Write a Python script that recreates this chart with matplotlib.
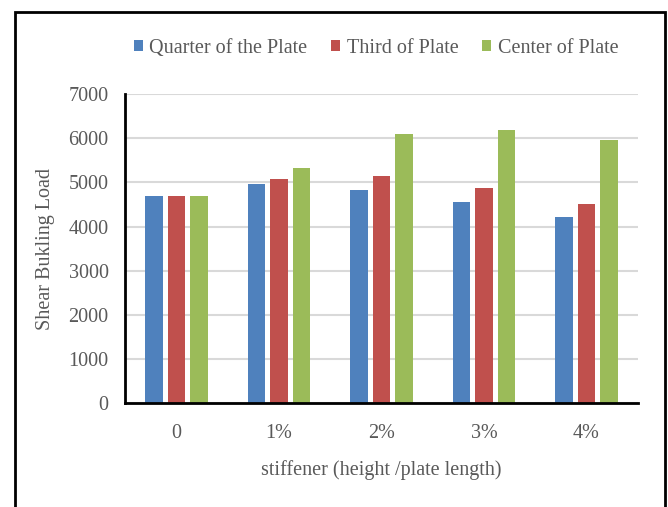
import matplotlib.pyplot as plt
import numpy as np
from matplotlib.patches import Rectangle

categories = ["0", "1%", "2%", "3%", "4%"]
quarter = [4700, 4970, 4835, 4550, 4215]
third = [4700, 5080, 5135, 4880, 4520]
center = [4700, 5330, 6085, 6175, 5950]
series_names = ["Quarter of the Plate", "Third of Plate", "Center of Plate"]
colors = ["#4F81BD", "#C0504D", "#9BBB59"]

plt.rcParams['font.family'] = ['Liberation Serif', 'DejaVu Serif']
text_color = "#595959"

fig = plt.figure(figsize=(6.68, 5.07), dpi=100)
ax = fig.add_axes([0.1876, 0.2045, 0.767, 0.610])

x = np.arange(len(categories))
step = 0.221
width = 0.17
for i, (vals, name, c) in enumerate(zip([quarter, third, center], series_names, colors)):
    ax.bar(x + (i - 1) * step, vals, width, color=c, label=name, zorder=3)

ax.set_xlim(-0.5, len(categories) - 0.5)
ax.set_ylim(0, 7000)
ax.set_yticks(range(0, 7001, 1000))
ax.set_xticks(x)
ax.set_xticklabels(categories)
ax.yaxis.grid(True, color="#d9d9d9", linewidth=1.5, zorder=0)
ax.tick_params(length=0, labelsize=14.5, labelcolor=text_color)
ax.tick_params(axis='x', pad=15)
ax.tick_params(axis='y', pad=12)

for side in ["top", "right"]:
    ax.spines[side].set_visible(False)
for side in ["left", "bottom"]:
    ax.spines[side].set_linewidth(2)
    ax.spines[side].set_color("black")
    ax.spines[side].set_zorder(4)

ax.set_ylabel("Shear Bukling Load", fontsize=14.5, color=text_color, labelpad=10)
ax.set_xlabel("stiffener (height /plate length)", fontsize=14.5, color=text_color, labelpad=12)

fig.legend(loc='center', bbox_to_anchor=(0.563, 0.905), ncol=3, frameon=False,
           fontsize=14.5, labelcolor=text_color, handlelength=0.45, handleheight=0.45,
           handletextpad=0.3, columnspacing=1.2)

# outer frame around the chart
frame = Rectangle((15 / 668, -0.1), 650 / 668, 1.1 - 12 / 507, transform=fig.transFigure,
                  fill=False, edgecolor="black", linewidth=2, clip_on=False)
fig.patches.append(frame)

fig.savefig("out.png", dpi=100)
